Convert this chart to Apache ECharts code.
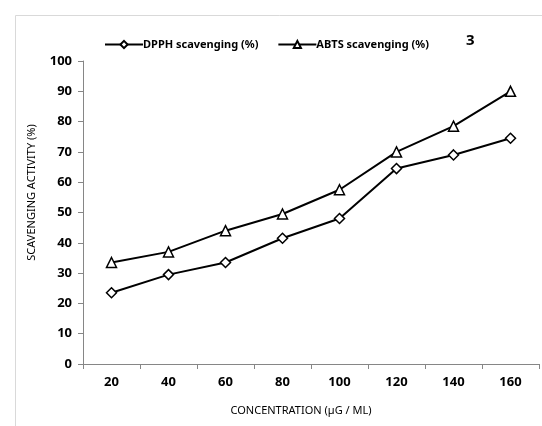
<!DOCTYPE html>
<html>
<head>
<meta charset="utf-8">
<script src="https://cdn.jsdelivr.net/npm/echarts@6/dist/echarts.min.js"></script>
<style>
  html, body { margin: 0; padding: 0; background: #fff; }
  #chart { width: 542px; height: 426px; }
</style>
</head>
<body>
<div id="chart"></div>
<script>
// 浓度 (µg/mL)
const concentrations = ["20", "40", "60", "80", "100", "120", "140", "160"];
// DPPH 清除率 (%)
const dpphValues = [23.5, 29.5, 33.5, 41.5, 48, 64.5, 69, 74.5];
// ABTS 清除率 (%)
const abtsValues = [33.5, 37, 44, 49.5, 57.5, 70, 78.5, 90];

const axisColor = "#868686";
const labelFont = "Noto Sans";

const chart = echarts.init(document.getElementById("chart"));

const option = {
  backgroundColor: "#fff",
  animation: false,
  graphic: [
    {
      // 外框
      type: "rect",
      left: 13,
      top: 13,
      shape: { width: 600, height: 460 },
      style: { fill: "none", stroke: "#d9d9d9", lineWidth: 1 },
      silent: true,
    },
    {
      type: "text",
      left: 466,
      top: 33,
      style: {
        text: "3",
        font: "bold 15px " + labelFont,
        fill: "#000",
      },
    },
  ],
  legend: {
    top: 34,
    left: 99,
    itemGap: 19,
    itemWidth: 38,
    itemHeight: 9,
    textStyle: {
      fontFamily: labelFont,
      fontWeight: "bold",
      fontSize: 11,
      color: "#000",
      padding: [0, 0, 0, -5],
    },
    data: ["DPPH scavenging (%)", "ABTS scavenging (%)"],
  },
  grid: {
    left: 83,
    right: 3,
    top: 61,
    bottom: 62,
  },
  xAxis: {
    type: "category",
    data: concentrations,
    boundaryGap: true,
    name: "CONCENTRATION (µG / ML)",
    nameLocation: "middle",
    nameGap: 41,
    nameTextStyle: {
      fontFamily: labelFont,
      fontSize: 11,
      color: "#000",
      padding: [0, 20, 0, 0],
    },
    axisLine: { lineStyle: { color: axisColor, width: 1 } },
    axisTick: {
      show: true,
      alignWithLabel: false,
      length: 5,
      lineStyle: { color: axisColor },
    },
    axisLabel: {
      fontFamily: labelFont,
      fontWeight: "bold",
      fontSize: 13,
      color: "#000",
      margin: 12,
    },
    splitLine: { show: false },
  },
  yAxis: {
    type: "value",
    min: 0,
    max: 100,
    interval: 10,
    name: "SCAVENGING ACTIVITY (%)",
    nameLocation: "middle",
    nameGap: 46,
    nameTextStyle: {
      fontFamily: labelFont,
      fontSize: 11,
      color: "#000",
      padding: [0, 0, 0, 40],
    },
    axisLine: { show: true, lineStyle: { color: axisColor, width: 1 } },
    axisTick: { show: true, length: 5, lineStyle: { color: axisColor } },
    axisLabel: {
      fontFamily: labelFont,
      fontWeight: "bold",
      fontSize: 13,
      color: "#000",
      margin: 11,
    },
    splitLine: { show: false },
  },
  series: [
    {
      name: "DPPH scavenging (%)",
      type: "line",
      data: dpphValues,
      symbol: "diamond",
      symbolSize: 10,
      lineStyle: { color: "#000", width: 2 },
      itemStyle: { color: "#fff", borderColor: "#000", borderWidth: 1.5 },
    },
    {
      name: "ABTS scavenging (%)",
      type: "line",
      data: abtsValues,
      symbol: "triangle",
      symbolSize: 10,
      lineStyle: { color: "#000", width: 2 },
      itemStyle: { color: "#fff", borderColor: "#000", borderWidth: 1.5 },
    },
  ],
};

option && chart.setOption(option);
</script>
</body>
</html>
